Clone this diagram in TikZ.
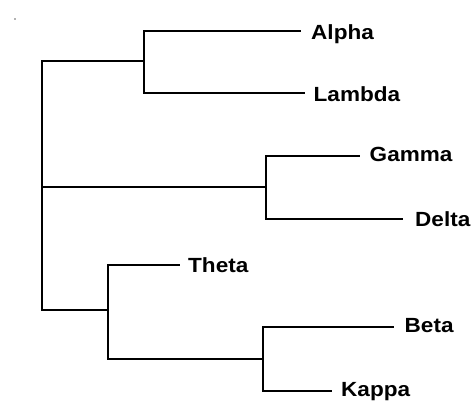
\documentclass[tikz,border=0pt]{standalone}
\usepackage{fontspec}
\setmainfont[FakeStretch=1.1]{Liberation Sans}
\begin{document}
\begin{tikzpicture}[x=1pt,y=-1pt,
  branch/.style={line width=2pt, line cap=rect},
  leaf/.style={anchor=base west, inner sep=0pt, font=\fontsize{20.5}{24}\selectfont\bfseries}]
\useasboundingbox[fill=white] (0,0) rectangle (476,405);
\fill[black!60] (15,19) circle (0.9);

% internal nodes of the tree
\coordinate (root) at (41.7,187.3);
\coordinate (al)   at (144,61);
\coordinate (gd)   at (266,187.3);
\coordinate (tbk)  at (108.3,310);
\coordinate (bk)   at (262.7,358.7);

% ends of the leaf branches
\coordinate (alphaE)  at (300,30.7);
\coordinate (lambdaE) at (303.7,93.3);
\coordinate (gammaE)  at (359.3,155.7);
\coordinate (deltaE)  at (402,219);
\coordinate (thetaE)  at (178.7,264.7);
\coordinate (betaE)   at (392.7,327);
\coordinate (kappaE)  at (331,390.7);

% leaf labels
\node[leaf] (alpha)  at (311,39)    {Alpha};
\node[leaf] (lambda) at (313.5,101) {Lambda};
\node[leaf] (gamma)  at (369.5,161) {Gamma};
\node[leaf] (delta)  at (415,226)   {Delta};
\node[leaf] (theta)  at (188,272.7) {Theta};
\node[leaf] (beta)   at (404.5,332.8) {Beta};
\node[leaf] (kappa)  at (341,396.7) {Kappa};

% root spine and its three children
\draw[branch] (al -| root) -- (tbk -| root);
\draw[branch] (al -| root) -- (al);
\draw[branch] (root) -- (gd);
\draw[branch] (tbk -| root) -- (tbk);

% Alpha / Lambda
\draw[branch] (alphaE) -| (al) |- (lambdaE);
% Gamma / Delta
\draw[branch] (gammaE) -| (gd) |- (deltaE);
% Theta / (Beta, Kappa)
\draw[branch] (thetaE) -| (tbk) |- (bk);
% Beta / Kappa
\draw[branch] (betaE) -| (bk) |- (kappaE);
\end{tikzpicture}
\end{document}
